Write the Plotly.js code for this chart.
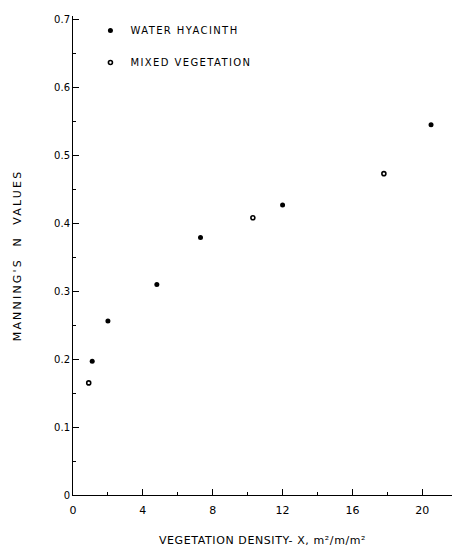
<!DOCTYPE html>
<html>
<head>
<meta charset="utf-8">
<script src="https://cdn.plot.ly/plotly-3.0.1.min.js"></script>
<style>
html,body{margin:0;padding:0;background:#fff;}
#chart{width:455px;height:551px;}
.legendtext{letter-spacing:1.4px;}
.xtitle{letter-spacing:0.6px;}
.ytitle{letter-spacing:2.2px;}
</style>
</head>
<body>
<div id="chart"></div>
<script>
// Water hyacinth (filled dots)
var hyacinthX = [1.1, 2.0, 4.8, 7.3, 12.0, 20.5];
var hyacinthY = [0.197, 0.256, 0.310, 0.379, 0.427, 0.545];
// Mixed vegetation (small open dots)
var mixedX = [0.9, 10.3, 17.8];
var mixedY = [0.165, 0.408, 0.473];

var xTickVals = [0, 4, 8, 12, 16, 20];
var xTickText = ['0', '4', '8', '12', '16', '20'];
var yTickVals = [0, 0.1, 0.2, 0.3, 0.4, 0.5, 0.6, 0.7];
var yTickText = ['0', '0.1', '0.2', '0.3', '0.4', '0.5', '0.6', '0.7'];

var FONT = 'DejaVu Sans, Liberation Sans, sans-serif';

var traces = [
  {
    x: hyacinthX, y: hyacinthY, type: 'scatter', mode: 'markers',
    name: 'WATER HYACINTH', legendgroup: 'a',
    marker: {symbol: 'circle', size: 5, color: '#000'}
  },
  {
    x: mixedX, y: mixedY, type: 'scatter', mode: 'markers',
    name: 'MIXED VEGETATION', legendgroup: 'b',
    marker: {symbol: 'circle-open', size: 4, color: '#000', line: {width: 1.6, color: '#000'}}
  }
];

var layout = {
  width: 455, height: 551,
  margin: {l: 73, r: 3, t: 16, b: 56, autoexpand: false},
  paper_bgcolor: '#fff', plot_bgcolor: '#fff',
  font: {family: FONT, size: 10, color: '#000'},
  showlegend: true,
  legend: {
    x: 0.046, y: 1.0, xanchor: 'left', yanchor: 'top',
    bgcolor: 'rgba(0,0,0,0)', borderwidth: 0,
    traceorder: 'grouped', tracegroupgap: 13,
    itemwidth: 30,
    font: {family: FONT, size: 10, color: '#000'}
  },
  xaxis: {
    range: [0, 21.7], showgrid: false, zeroline: false,
    showline: true, linecolor: '#000', linewidth: 1,
    ticks: 'inside', ticklen: 6, tickcolor: '#000', tickwidth: 1,
    tickvals: xTickVals, ticktext: xTickText,
    ticklabelstandoff: 5,
    tickfont: {family: FONT, size: 11, color: '#000'},
    minor: {ticks: 'inside', ticklen: 3, dtick: 2, tickcolor: '#000', tickwidth: 1, showgrid: false},
    title: {text: 'VEGETATION DENSITY- X, m\u00b2/m/m\u00b2', font: {family: FONT, size: 11, color: '#000'}, standoff: 20}
  },
  yaxis: {
    range: [0, 0.705], showgrid: false, zeroline: false,
    showline: true, linecolor: '#000', linewidth: 1,
    ticks: 'inside', ticklen: 6, tickcolor: '#000', tickwidth: 1,
    tickvals: yTickVals, ticktext: yTickText,
    tickfont: {family: FONT, size: 10, color: '#000'},
    minor: {ticks: 'inside', ticklen: 3, dtick: 0.05, tickcolor: '#000', tickwidth: 1, showgrid: false},
    title: {text: "MANNING'S  N  VALUES", font: {family: FONT, size: 11, color: '#000'}, standoff: 30}
  }
};

Plotly.newPlot('chart', traces, layout, {displayModeBar: false, staticPlot: true});
</script>
</body>
</html>
